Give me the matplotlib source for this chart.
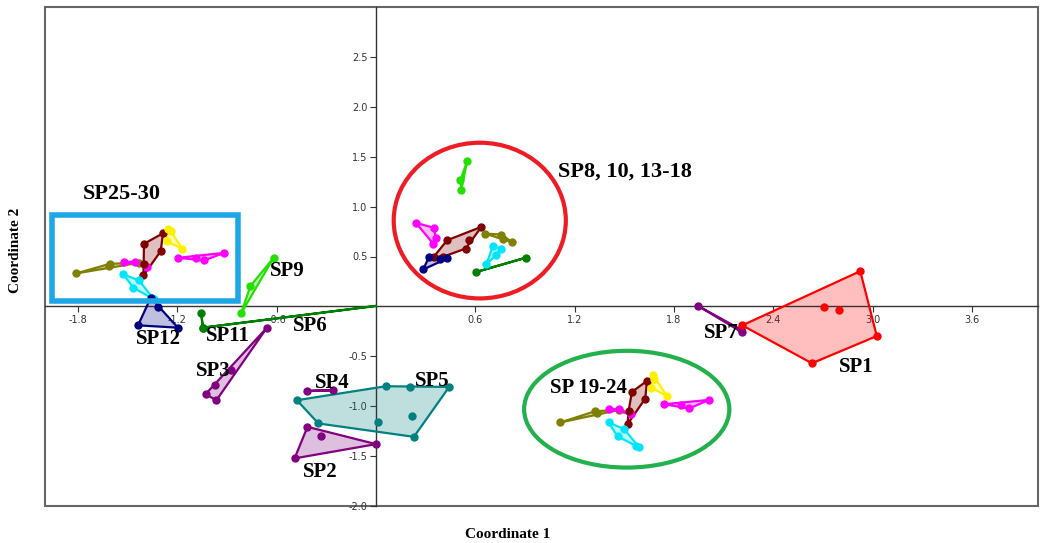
import numpy as np
import matplotlib.pyplot as plt
from matplotlib.patches import Ellipse, Rectangle

# group name, colour, (x, y) points
groups = [
    # SP25-30 cluster (box)
    ('olive_a', '#808000', [(-1.813, 0.33), (-1.607, 0.427), (-1.614, 0.40), (-1.432, 0.437)]),
    ('magenta_a1', '#FF00FF', [(-1.522, 0.447), (-1.456, 0.447), (-1.386, 0.393)]),
    ('maroon_a', '#800000', [(-1.287, 0.733), (-1.402, 0.627), (-1.301, 0.553), (-1.402, 0.427), (-1.405, 0.31)]),
    ('yellow_a', '#FFF000', [(-1.255, 0.777), (-1.241, 0.753), (-1.265, 0.653), (-1.170, 0.577)]),
    ('magenta_a2', '#FF00FF', [(-1.195, 0.487), (-1.090, 0.487), (-1.040, 0.46), (-0.916, 0.537)]),
    ('cyan_a', '#00E5FF', [(-1.526, 0.32), (-1.432, 0.26), (-1.466, 0.187), (-1.351, 0.08), (-1.341, 0.07)]),
    # singles on the left
    ('SP12', '#000080', [(-1.361, 0.087), (-1.317, -0.003), (-1.438, -0.19), (-1.197, -0.213)]),
    ('SP11', '#008000', [(-1.056, -0.07), (-1.046, -0.213)]),
    ('SP6', '#008000', [(-1.046, -0.213), (0.0, 0.005)]),
    ('SP9', '#22E000', [(-0.619, 0.487), (-0.759, 0.203), (-0.815, -0.07)]),
    ('SP3', '#800080', [(-0.659, -0.213), (-0.875, -0.637), (-0.970, -0.783), (-1.030, -0.88), (-0.964, -0.94)]),
    ('SP4', '#800080', [(-0.414, -0.847), (-0.261, -0.84)]),
    ('SP5', '#008080', [(-0.478, -0.94), (-0.348, -1.173), (0.014, -1.163), (0.215, -1.097),
                        (0.229, -1.307), (0.442, -0.807), (0.205, -0.807), (0.060, -0.80)]),
    ('SP2', '#800080', [(-0.414, -1.207), (-0.333, -1.297), (0.0, -1.38), (-0.492, -1.523)]),
    ('SP7', '#800080', [(1.948, 0.003), (2.203, -0.23), (2.209, -0.257)]),
    ('SP1', '#FF0000', [(2.213, -0.19), (2.926, 0.353), (3.026, -0.297), (2.634, -0.57),
                        (2.705, -0.003), (2.799, -0.037)]),
    # SP8, 10, 13-18 cluster (red circle)
    ('lime_b', '#22E000', [(0.550, 1.453), (0.510, 1.263), (0.516, 1.17)]),
    ('magenta_b', '#FF00FF', [(0.241, 0.837), (0.351, 0.787), (0.361, 0.687), (0.345, 0.63)]),
    ('maroon_b', '#800000', [(0.637, 0.797), (0.430, 0.663), (0.560, 0.663), (0.542, 0.58),
                             (0.349, 0.497), (0.405, 0.497)]),
    ('navy_b', '#000080', [(0.321, 0.497), (0.386, 0.47), (0.430, 0.48), (0.285, 0.37)]),
    ('olive_b', '#808000', [(0.657, 0.73), (0.757, 0.72), (0.823, 0.643), (0.767, 0.677)]),
    ('cyan_b', '#00E5FF', [(0.707, 0.61), (0.757, 0.577), (0.727, 0.52), (0.667, 0.42)]),
    ('green_b', '#008000', [(0.602, 0.343), (0.904, 0.487)]),
    # SP 19-24 cluster (green ellipse)
    ('olive_c', '#808000', [(1.113, -1.163), (1.325, -1.05), (1.333, -1.07), (1.470, -1.037)]),
    ('magenta_c1', '#FF00FF', [(1.405, -1.03), (1.470, -1.03), (1.540, -1.08)]),
    ('maroon_c', '#800000', [(1.637, -0.747), (1.546, -0.857), (1.627, -0.923), (1.526, -1.053), (1.520, -1.18)]),
    ('yellow_c', '#FFF000', [(1.675, -0.69), (1.661, -0.813), (1.757, -0.897), (1.681, -0.73)]),
    ('magenta_c2', '#FF00FF', [(1.741, -0.98), (1.842, -0.99), (1.892, -1.023), (2.012, -0.937)]),
    ('cyan_c', '#00E5FF', [(1.405, -1.163), (1.500, -1.23), (1.460, -1.303), (1.571, -1.397), (1.590, -1.413)]),
]

# text, x, y, font size
labels = [('SP25-30', -1.77, 1.13, 16), ('SP8, 10, 13-18', 1.10, 1.35, 16), ('SP9', -0.64, 0.35, 15),
          ('SP12', -1.45, -0.33, 15), ('SP11', -1.03, -0.30, 15), ('SP6', -0.50, -0.20, 15),
          ('SP3', -1.09, -0.65, 15), ('SP4', -0.37, -0.77, 15), ('SP5', 0.235, -0.75, 15),
          ('SP2', -0.44, -1.66, 15), ('SP 19-24', 1.054, -0.82, 15), ('SP7', 1.98, -0.27, 15),
          ('SP1', 2.795, -0.61, 15)]

xticks = [-1.8, -1.2, -0.6, 0.6, 1.2, 1.8, 2.4, 3.0, 3.6]
yticks = [-2.0, -1.5, -1.0, -0.5, 0.5, 1.0, 1.5, 2.0, 2.5]


def hull(pts):
    pts = sorted(set(pts))
    if len(pts) < 3:
        return pts
    def cross(o, a, b):
        return (a[0]-o[0])*(b[1]-o[1]) - (a[1]-o[1])*(b[0]-o[0])
    lower, upper = [], []
    for p in pts:
        while len(lower) >= 2 and cross(lower[-2], lower[-1], p) <= 0:
            lower.pop()
        lower.append(p)
    for p in reversed(pts):
        while len(upper) >= 2 and cross(upper[-2], upper[-1], p) <= 0:
            upper.pop()
        upper.append(p)
    return lower[:-1] + upper[:-1]


fig = plt.figure(figsize=(10.4, 5.43), dpi=100)
ax = fig.add_axes([45/1040, 1 - 506/543, 993/1040, 499/543])
ax.set_xlim(-2.0, 4.0)
ax.set_ylim(-2.0, 3.0)

for name, col, pts in groups:
    h = np.array(hull(pts))
    hc = np.vstack([h, h[:1]])
    if len(h) >= 3:
        ax.fill(h[:, 0], h[:, 1], color=col, alpha=0.25, lw=0, zorder=2)
    ax.plot(hc[:, 0], hc[:, 1], color=col, lw=1.6, zorder=3)
    p = np.array(pts)
    if name == 'SP6':
        p = p[:1]
    ax.plot(p[:, 0], p[:, 1], 'o', color=col, ms=5, zorder=4)

# highlight shapes
ax.add_patch(Rectangle((-1.955, 0.05), 1.12, 0.87, fill=False, ec='#1EA7E6', lw=4, zorder=5))
ax.add_patch(Ellipse((0.627, 0.86), 1.04, 1.56, fill=False, ec='#EE1C24', lw=3, zorder=5))
ax.add_patch(Ellipse((1.515, -1.03), 1.24, 1.17, fill=False, ec='#22B14C', lw=3, zorder=5))

for txt, x, y, fs in labels:
    ax.text(x, y, txt, fontsize=fs, fontweight='bold', family='Liberation Serif',
            ha='left', va='center', zorder=6)

# axes through origin, frame around
for s in ['top', 'right']:
    ax.spines[s].set_visible(False)
ax.spines['left'].set_position(('data', 0))
ax.spines['bottom'].set_position(('data', 0))
ax.spines['left'].set_color('#333333')
ax.spines['bottom'].set_color('#333333')
ax.spines['left'].set_linewidth(1)
ax.spines['bottom'].set_linewidth(1)
ax.patch.set_edgecolor('#666666')
ax.patch.set_linewidth(1.5)

ax.set_xticks(xticks)
ax.set_xticklabels([f'{v:.1f}' for v in xticks])
ax.set_yticks(yticks)
ax.set_yticklabels([f'{v:.1f}' for v in yticks])
ax.tick_params(labelsize=7, labelcolor='#333333', color='#333333', length=4, pad=2)

fig.text(508/1040, 1 - 534/543, 'Coordinate 1', fontsize=11, fontweight='bold',
         family='Liberation Serif', ha='center', va='center')
fig.text(16/1040, 1 - 250/543, 'Coordinate 2', fontsize=11, fontweight='bold',
         family='Liberation Serif', ha='center', va='center', rotation=90)

fig.savefig('out.png', dpi=100)
